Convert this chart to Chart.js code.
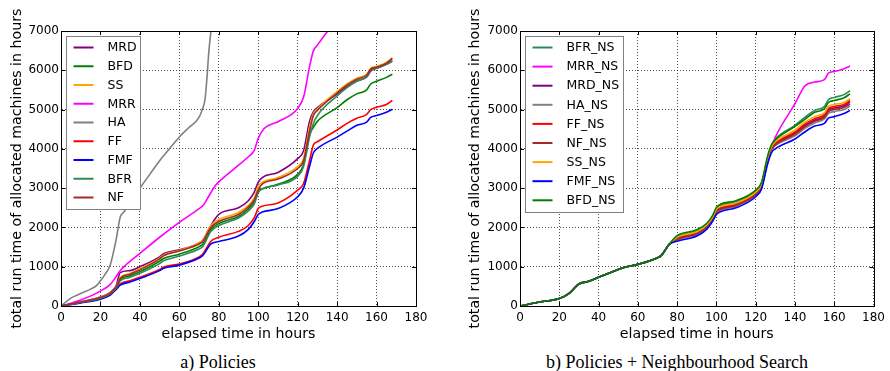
<!DOCTYPE html>
<html>
<head>
<meta charset="utf-8">
<script src="https://cdn.jsdelivr.net/npm/chart.js@4.4.0/dist/chart.umd.min.js"></script>
<style>
body { margin:0; background:#fff; width:890px; height:371px; position:relative; overflow:hidden; }
canvas { position:absolute; top:0; }
#left { left:0; }
#right { left:445px; }
.caption { position:absolute; top:352px; line-height:20px; font-family:"Liberation Serif", "Times New Roman", serif; font-size:18px; color:#000; text-align:center; }
</style>
</head>
<body>
<canvas id="left" width="445" height="345"></canvas>
<canvas id="right" width="445" height="345"></canvas>
<div class="caption" style="left:0;width:436px">a) Policies</div>
<div class="caption" style="left:445px;width:464px">b) Policies + Neighbourhood Search</div>
<script>
// elapsed time (hours) sample points shared by most series
var hours = [0,10,20,25,28,30,35,40,50,52,60,70,72,76,80,90,95,98,100,102,110,120,123,126,128,130,140,145,150,155,157,160,165,168];

// a) Policies
var mrd = [0,110,230,350,520,850,900,1000,1250,1330,1430,1600,1680,2050,2330,2500,2680,2900,3150,3270,3400,3750,3950,4700,4950,5050,5400,5580,5730,5830,5980,6050,6150,6240];
var bfd = [0,95,205,320,470,670,770,870,1140,1210,1320,1510,1580,1950,2100,2280,2470,2650,2920,2980,3100,3350,3600,4350,4550,4700,5050,5250,5400,5500,5650,5720,5820,5900];
var ss  = [0,100,220,340,500,720,830,950,1220,1300,1410,1610,1680,2050,2200,2380,2560,2750,3050,3150,3270,3550,3750,4550,4900,5020,5460,5650,5800,5900,6050,6100,6200,6320];
var ff  = [0,90,195,300,440,560,640,730,930,990,1070,1250,1330,1650,1750,1900,2050,2250,2480,2540,2620,2950,3120,3700,4100,4180,4480,4650,4780,4880,5000,5060,5130,5230];
var fmf = [0,80,175,280,420,530,610,700,900,960,1040,1220,1290,1580,1640,1780,1950,2150,2330,2390,2480,2780,3000,3550,3900,4010,4300,4450,4600,4680,4800,4850,4930,5010];
var bfr = [0,90,200,310,460,640,730,830,1080,1150,1270,1450,1520,1900,2050,2240,2420,2600,2880,2980,3080,3300,3550,4300,4650,4850,5350,5560,5720,5840,6000,6050,6150,6230];
var nf  = [0,100,215,330,490,700,810,920,1200,1280,1400,1580,1650,2000,2150,2330,2520,2700,2950,3100,3230,3500,3700,4450,4850,4980,5420,5620,5770,5880,6030,6080,6180,6300];

var haHours = [0,5,10,15,18,20,22,25,28,30,32,35,40,45,50,55,60,65,70,72,73,74,75,76,77];
var ha      = [0,200,320,430,520,640,780,1050,1700,2260,2400,2650,3000,3350,3700,4000,4300,4550,4800,5050,5250,5800,6500,7000,7600];

var mrrHours = [0,10,20,25,28,30,33,40,50,60,70,72,75,78,80,90,95,98,100,103,110,120,123,126,128,130,135,140];
var mrr      = [0,150,380,550,750,900,1050,1340,1750,2130,2480,2560,2800,3050,3160,3585,3800,3960,4270,4520,4690,5025,5320,6085,6500,6640,6980,7300];

// b) Policies + Neighbourhood Search: common start (0..76 h) and separate tails (80..168 h)
var nsStart = [0,100,190,320,470,560,630,730,930,970,1060,1230,1290,1570];
var bfrNs = nsStart.concat([1760,1910,2080,2280,2480,2560,2650,2930,3130,3770,4080,4250,4600,4800,4980,5080,5250,5310,5380,5480]);
var mrrNs = nsStart.concat([1720,1860,2030,2230,2430,2490,2590,2870,3070,3720,4040,4300,5150,5600,5700,5760,5930,5970,6040,6110]);
var mrdNs = nsStart.concat([1710,1850,2020,2220,2420,2480,2580,2860,3060,3700,4010,4130,4400,4590,4730,4830,4990,5040,5090,5190]);
var haNs  = nsStart.concat([1680,1820,1990,2190,2370,2440,2540,2820,3020,3650,3960,4080,4330,4520,4660,4760,4900,4950,5000,5090]);
var ffNs  = nsStart.concat([1730,1870,2040,2240,2440,2500,2600,2880,3080,3720,4030,4150,4430,4630,4770,4870,5030,5080,5130,5230]);
var nfNs  = nsStart.concat([1700,1840,2010,2210,2400,2460,2560,2840,3040,3680,3990,4100,4370,4560,4700,4800,4950,5000,5050,5140]);
var ssNs  = nsStart.concat([1750,1890,2060,2260,2460,2530,2620,2900,3100,3740,4050,4180,4480,4680,4820,4920,5080,5130,5180,5280]);
var fmfNs = nsStart.concat([1650,1780,1950,2150,2330,2400,2500,2780,2980,3600,3900,4000,4250,4430,4580,4650,4780,4820,4900,4980]);
var bfdNs = nsStart.concat([1790,1940,2100,2300,2510,2590,2680,2950,3150,3800,4100,4230,4570,4750,4930,5020,5180,5230,5300,5400]);

var xTicks = [0,20,40,60,80,100,120,140,160,180];
var yTicks = [0,1000,2000,3000,4000,5000,6000,7000];

var colors = {
	MRD:'#800080', BFD:'#007f00', SS:'#ffa500', MRR:'#ff00ff', HA:'#808080',
	FF:'#ff0000', FMF:'#0000ff', BFR:'#2e8b57', NF:'#a52a2a'
};

Chart.defaults.font.family = '"DejaVu Sans", sans-serif';
Chart.defaults.color = '#000';

var toPoints = function(xs, ys) {
	return xs.map(function(x, i) { return {x:x, y:ys[i]}; });
};

var series = function(label, color, xs, ys, i) {
	return {
		label:label,
		data:toPoints(xs, ys),
		borderColor:color,
		backgroundColor:color,
		borderWidth:1.6,
		pointRadius:0,
		cubicInterpolationMode:'monotone',
		order:-i
	};
};

// box around the axes with inward tick marks, like matplotlib
var frame = {
	id:'frame',
	afterDatasetsDraw:function(chart) {
		var ctx = chart.ctx, a = chart.chartArea;
		var sx = chart.scales.x, sy = chart.scales.y;
		ctx.save();
		ctx.strokeStyle = '#000';
		ctx.lineWidth = 1;
		ctx.strokeRect(Math.round(a.left) + 0.5, Math.round(a.top) + 0.5,
			Math.round(a.right - a.left), Math.round(a.bottom - a.top));
		ctx.beginPath();
		xTicks.forEach(function(v) {
			var px = Math.round(sx.getPixelForValue(v)) + 0.5;
			ctx.moveTo(px, a.bottom); ctx.lineTo(px, a.bottom - 4);
			ctx.moveTo(px, a.top); ctx.lineTo(px, a.top + 4);
		});
		yTicks.forEach(function(v) {
			var py = Math.round(sy.getPixelForValue(v)) + 0.5;
			ctx.moveTo(a.left, py); ctx.lineTo(a.left + 4, py);
			ctx.moveTo(a.right, py); ctx.lineTo(a.right - 4, py);
		});
		ctx.stroke();
		ctx.restore();
	}
};

var legendBox = {
	id:'legendBox',
	afterDraw:function(chart) {
		var ctx = chart.ctx, a = chart.chartArea;
		var sets = chart.data.datasets;
		var rowH = chart.options.plugins.legendBox.rowHeight;
		ctx.save();
		ctx.font = '12.5px "DejaVu Sans"';
		var maxW = 0;
		sets.forEach(function(ds) { maxW = Math.max(maxW, ctx.measureText(ds.label).width); });
		var x = Math.round(a.left + 5) + 0.5, y = Math.round(a.top + 5) + 0.5;
		var w = Math.round(41 + maxW + 4), h = Math.round(11 + (sets.length - 1) * rowH + 12);
		ctx.fillStyle = '#fff';
		ctx.fillRect(x, y, w, h);
		ctx.strokeStyle = '#808080';
		ctx.lineWidth = 1;
		ctx.strokeRect(x, y, w, h);
		ctx.textBaseline = 'middle';
		sets.forEach(function(ds, i) {
			var cy = y + 11 + i * rowH;
			ctx.strokeStyle = ds.borderColor;
			ctx.lineWidth = 2;
			ctx.beginPath();
			ctx.moveTo(x + 7, cy); ctx.lineTo(x + 27, cy);
			ctx.stroke();
			ctx.fillStyle = '#000';
			ctx.fillText(ds.label, x + 41, cy + 0.5);
		});
		ctx.restore();
	}
};

var buildChart = function(canvasId, datasets, pad, yWidth, rowHeight) {
	var ctx = document.getElementById(canvasId).getContext('2d');
	return new Chart(ctx, {
		type:'line',
		data:{datasets:datasets},
		plugins:[frame, legendBox],
		options:{
			responsive:false,
			animation:false,
			layout:{padding:pad},
			plugins:{
				legend:{display:false},
				tooltip:{enabled:false},
				legendBox:{rowHeight:rowHeight}
			},
			scales:{
				x:{
					type:'linear', min:0, max:180,
					afterFit:function(scale) { scale.height = 39; },
					afterBuildTicks:function(scale) { scale.ticks = xTicks.map(function(v) { return {value:v}; }); },
					ticks:{font:{size:12}, padding:5, maxRotation:0, callback:function(v) { return String(v); }},
					grid:{color:'rgba(0,0,0,0.7)', lineWidth:1, drawTicks:false},
					border:{display:true, color:'#000', dash:[1,2]},
					title:{display:true, text:'elapsed time in hours', font:{size:14.2}, padding:{top:0, bottom:2}}
				},
				y:{
					type:'linear', min:0, max:7000,
					afterFit:function(scale) { scale.width = yWidth; },
					afterBuildTicks:function(scale) { scale.ticks = yTicks.map(function(v) { return {value:v}; }); },
					ticks:{font:{size:12}, padding:2, callback:function(v) { return String(v); }},
					grid:{color:'rgba(0,0,0,0.7)', lineWidth:1, drawTicks:false},
					border:{display:true, color:'#000', dash:[1,2]},
					title:{display:true, text:'total run time of allocated machines in hours', font:{size:14.2}, padding:{top:9, bottom:0}}
				}
			}
		}
	});
};

buildChart('left', [
	series('MRD', colors.MRD, hours, mrd, 0),
	series('BFD', colors.BFD, hours, bfd, 1),
	series('SS', colors.SS, hours, ss, 2),
	series('MRR', colors.MRR, mrrHours, mrr, 3),
	series('HA', colors.HA, haHours, ha, 4),
	series('FF', colors.FF, hours, ff, 5),
	series('FMF', colors.FMF, hours, fmf, 6),
	series('BFR', colors.BFR, hours, bfr, 7),
	series('NF', colors.NF, hours, nf, 8)
], {left:0, right:29, top:31, bottom:0}, 61, 18.75);

buildChart('right', [
	series('BFR_NS', colors.BFR, hours, bfrNs, 0),
	series('MRR_NS', colors.MRR, hours, mrrNs, 1),
	series('MRD_NS', colors.MRD, hours, mrdNs, 2),
	series('HA_NS', colors.HA, hours, haNs, 3),
	series('FF_NS', colors.FF, hours, ffNs, 4),
	series('NF_NS', colors.NF, hours, nfNs, 5),
	series('SS_NS', colors.SS, hours, ssNs, 6),
	series('FMF_NS', colors.FMF, hours, fmfNs, 7),
	series('BFD_NS', colors.BFD, hours, bfdNs, 8)
], {left:13, right:14, top:31, bottom:0}, 62, 19.1);
</script>
</body>
</html>
